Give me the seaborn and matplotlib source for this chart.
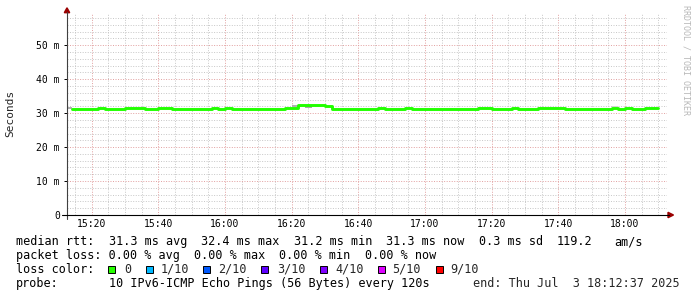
import re
import numpy as np
import pandas as pd
import matplotlib
matplotlib.use("Agg")
import matplotlib.pyplot as plt
import matplotlib.dates as mdates
from matplotlib.patches import Rectangle
from matplotlib.lines import Line2D
from matplotlib.ticker import FixedLocator, MultipleLocator, FuncFormatter
import seaborn as sns

# ---------------- data ----------------
L, H = 31.2, 31.45
median_ms = ([L] * 4 + [H] + [L] * 3 + [H] * 3 + [L] * 2 + [H] * 2 + [L] * 6 + [H] + [L] + [H] + [L] * 8
             + [31.5, 31.6] + [32.4] * 4 + [32.1]
             + [L] * 7 + [H] + [L] * 3 + [H] + [L] * 10 + [H] * 2 + [L] * 3 + [H] + [L] * 3 + [H] * 4
             + [L] * 7 + [H] + [L] + [H] + [L] * 2 + [H] * 2)
first_step = "2025-07-03 15:14:00"
view_start = "2025-07-03 15:12:37"
view_end = "2025-07-03 18:12:37"

smoke_start = ["2025-07-03 15:12:37", "2025-07-03 16:20:00", "2025-07-03 16:24:00", "2025-07-03 17:56:00"]
smoke_end = ["2025-07-03 15:14:00", "2025-07-03 16:22:00", "2025-07-03 16:26:00", "2025-07-03 17:58:00"]
smoke_lo = [31.2, 31.7, 31.5, 31.7]
smoke_hi = [31.9, 32.35, 32.1, 32.0]
smoke_col = ["#b0b0b0", "#b0b0b0", "#a8a8a8", "#d4d4d4"]

y_ticks = [0, 10, 20, 30, 40, 50]

stats_line = "median rtt:  31.3 ms avg  32.4 ms max  31.2 ms min  31.3 ms now  0.3 ms sd  119.2   am/s"
loss_line = "packet loss: 0.00 % avg  0.00 % max  0.00 % min  0.00 % now"
probe_line = "probe:       10 IPv6-ICMP Echo Pings (56 Bytes) every 120s"
end_text = "end: Thu Jul  3 18:12:37 2025"
loss_labels = ["0", "1/10", "2/10", "3/10", "4/10", "5/10", "9/10"]
loss_colors = ["#26ff00", "#00b8ff", "#0059ff", "#5e00ff", "#7e00ff", "#dd00ff", "#ff0000"]

# ---------------- figure ----------------
W, Hh = 697, 297
sns.set_theme(style="white")
plt.rcParams["font.family"] = ["DejaVu Sans Mono"]

fig = plt.figure(figsize=(W / 100, Hh / 100), dpi=100)
fig.patch.set_facecolor("white")

def fx(x):
    return x / W

def fy(y):
    return 1 - y / Hh

ax_l, ax_r, ax_b, ax_t = 67, 667, 215, 13
ax = fig.add_axes([fx(ax_l), fy(ax_b), (ax_r - ax_l) / W, (ax_b - ax_t) / Hh])
ax.set_facecolor("white")

times = pd.date_range(first_step, periods=len(median_ms) + 1, freq="2min")
df = pd.DataFrame({"time": times, "median": median_ms + [median_ms[-1]]})

for s0, s1, lo, hi, c in zip(smoke_start, smoke_end, smoke_lo, smoke_hi, smoke_col):
    ax.fill_between([pd.Timestamp(s0), pd.Timestamp(s1)], [lo, lo], [hi, hi],
                    color=c, lw=0, zorder=2)

sns.lineplot(data=df, x="time", y="median", drawstyle="steps-post",
             color="#22ff00", lw=2.1, ax=ax, zorder=3)

ax.set_xlim(pd.Timestamp(view_start), pd.Timestamp(view_end))
ax.set_ylim(0, 59.5)

ax.xaxis.set_major_locator(mdates.MinuteLocator(byminute=[0, 20, 40]))
ax.xaxis.set_minor_locator(mdates.MinuteLocator(byminute=range(0, 60, 5)))
ax.xaxis.set_major_formatter(mdates.DateFormatter("%H:%M"))
ax.yaxis.set_major_locator(FixedLocator(y_ticks))
ax.yaxis.set_minor_locator(MultipleLocator(2))
ax.yaxis.set_major_formatter(FuncFormatter(lambda v, p: "0" if v == 0 else f"{int(v)} m"))

ax.grid(which="minor", color="#c4c4c4", lw=0.65, linestyle=(0, (1.1, 1.7)), zorder=0)
ax.grid(which="major", color="#e09a9a", lw=0.65, linestyle=(0, (1.1, 1.7)), zorder=1)
ax.set_axisbelow(True)

ax.tick_params(axis="x", which="both", length=0, pad=3.2, labelsize=7, colors="black")
ax.tick_params(axis="y", which="major", length=2.5, width=0.7, pad=2.6, labelsize=7,
               colors="black", direction="out", left=True)
ax.tick_params(axis="y", which="minor", length=0)
ax.set_xlabel("")
ax.set_ylabel("")
for sp in ax.spines.values():
    sp.set_visible(False)

# axes lines and arrows
fig.add_artist(Line2D([fx(67), fx(67)], [fy(219), fy(12)], color="#404040", lw=0.8,
                      transform=fig.transFigure))
fig.add_artist(Line2D([fx(62), fx(669)], [fy(215), fy(215)], color="black", lw=0.8,
                      transform=fig.transFigure))
fig.add_artist(plt.Polygon([[fx(64.3), fy(12.7)], [fx(69.7), fy(12.7)], [fx(67), fy(7.8)]],
                           closed=True, color="#9a0000", transform=fig.transFigure))
fig.add_artist(plt.Polygon([[fx(668), fy(212.3)], [fx(668), fy(217.7)], [fx(673.5), fy(215)]],
                           closed=True, color="#9a0000", transform=fig.transFigure))

fig.text(fx(10), fy(113), "Seconds", rotation=90, fontsize=8, ha="center", va="center")
fig.text(fx(686), fy(5), "RRDTOOL / TOBI OETIKER", rotation=270, fontsize=6,
         ha="center", va="top", color="#b8b8b8")

CW = 7.12
X0 = 16

def mono(y, s, x0=X0):
    for m in re.finditer(r"\S+(?: \S+)*", s):
        fig.text(fx(x0 + m.start() * CW), fy(y), m.group(), fontsize=8.5,
                 ha="left", va="center", color="black")

mono(241.7, stats_line)
mono(255.3, loss_line)
mono(269.3, "loss color:")
mono(283.3, probe_line)
fig.text(fx(680), fy(283.3), end_text, fontsize=8.5, ha="right", va="center")

box_x = [108, 146, 203, 261, 320, 378, 436]
lab_x = [124, 160.7, 218.3, 276.7, 335, 392.3, 450]
for bx, lx, lab, col in zip(box_x, lab_x, loss_labels, loss_colors):
    fig.add_artist(Rectangle((fx(bx), fy(273)), 7.3 / W, 7.5 / Hh, facecolor=col,
                             edgecolor="black", lw=0.7, transform=fig.transFigure))
    fig.text(fx(lx), fy(269.3), lab, fontsize=8.5, ha="left", va="center")

fig.savefig("out.png", dpi=100, facecolor="white")
